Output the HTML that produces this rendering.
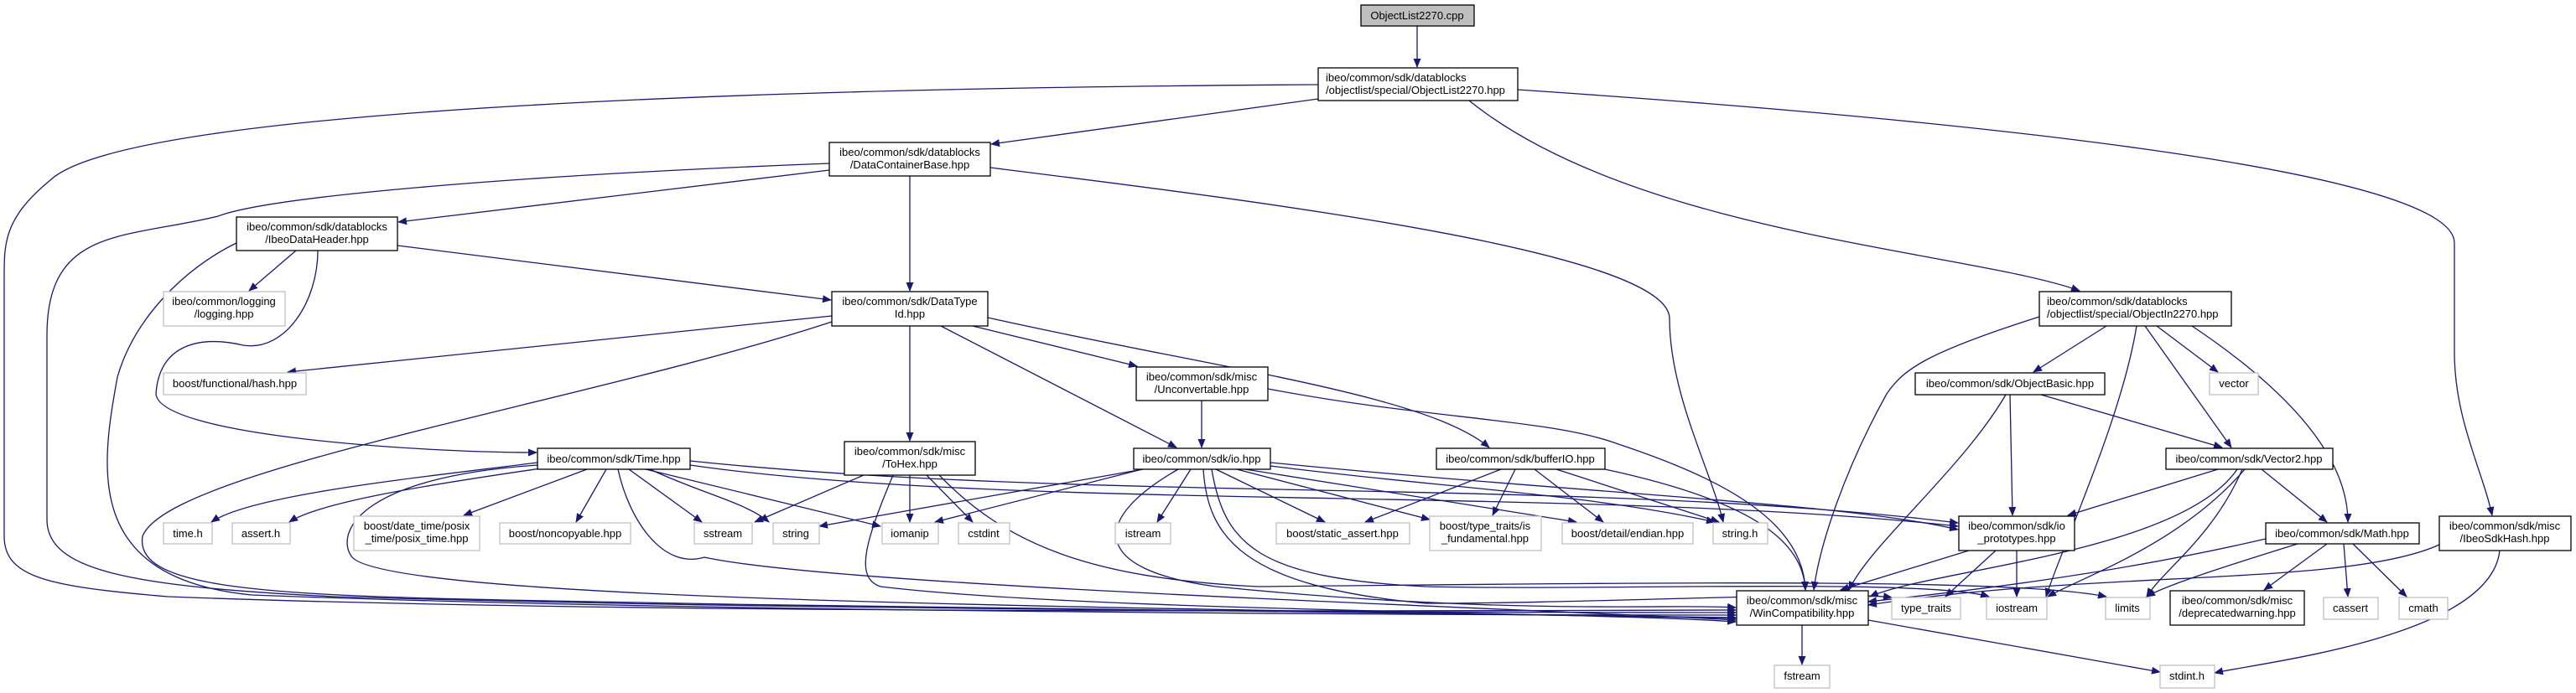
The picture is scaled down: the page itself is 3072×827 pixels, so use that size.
<!DOCTYPE html>
<html><head><meta charset="utf-8"><style>
html,body{margin:0;padding:0;background:#fff;}
svg{display:block;}
text{font-family:"Liberation Sans",sans-serif;font-size:13px;fill:#000;}
.n{fill:#fff;stroke:#000;stroke-width:1.3;}
.g{fill:#fff;stroke:#bfbfbf;stroke-width:1.3;}
.e{fill:none;stroke:#191970;stroke-width:1.3;}
</style></head><body>
<svg width="3072" height="827" viewBox="0 0 3072 827" xmlns="http://www.w3.org/2000/svg">
<defs><marker id="a" markerWidth="11" markerHeight="9" refX="10" refY="4.5" orient="auto" markerUnits="userSpaceOnUse"><path d="M0,0L11,4.5L0,9z" fill="#191970"/></marker></defs>
<g class="e" marker-end="url(#a)">
<path d="M1690,31L1690,80"/>
<path d="M1572,118L1182,172"/>
<path d="M1572,101C900,105 150,130 60,215C5,260 5,290 5,330L5,640C5,690 60,700 200,712C800,735 1800,728 2070,728"/>
<path d="M1752,120C1950,280 2350,300 2480,347"/>
<path d="M1810,107C2300,140 2927,200 2927,290L2927,420C2927,500 2960,560 2972,615"/>
<path d="M989,203L475,265"/>
<path d="M1085,210L1085,347"/>
<path d="M1181,200C1500,240 1990,300 1991,380C1991,470 2040,560 2055,623"/>
<path d="M989,195C600,210 320,235 260,258C150,285 56,270 56,400L56,620C56,680 150,700 400,712C1000,730 1900,731 2070,731"/>
<path d="M353,299L297,347"/>
<path d="M474,293L991,358"/>
<path d="M379,299C379,360 340,420 290,412C240,400 190,410 186,470C190,520 500,540 640,540"/>
<path d="M282,290C220,320 160,380 140,450C120,560 100,690 300,710C900,733 1900,734 2070,734"/>
<path d="M992,377L343,444"/>
<path d="M992,384C700,480 200,560 170,640C160,700 300,710 600,716C1200,728 1900,736 2070,737"/>
<path d="M1085,389L1085,526"/>
<path d="M1122,389L1403,534"/>
<path d="M1160,389L1356,437"/>
<path d="M1178,379C1450,440 1700,470 1776,534"/>
<path d="M1433,478L1433,534"/>
<path d="M1512,464C1700,500 1850,500 1930,530C2050,570 2150,620 2153,704"/>
<path d="M641,552C500,570 300,590 252,623"/>
<path d="M645,559C500,580 380,600 345,623"/>
<path d="M700,560L553,615"/>
<path d="M723,560L687,623"/>
<path d="M750,560L837,623"/>
<path d="M775,560C840,590 890,600 917,623"/>
<path d="M770,560L1050,628"/>
<path d="M641,555C420,570 400,640 420,665C470,720 1400,725 2070,738"/>
<path d="M737,560C750,620 790,680 840,665C1000,700 1800,725 2070,740"/>
<path d="M823,555C1200,610 1900,580 2335,628"/>
<path d="M823,550C1300,600 1900,570 2335,624"/>
<path d="M1030,567L900,623"/>
<path d="M1085,567L1085,623"/>
<path d="M1105,567L1160,623"/>
<path d="M1065,567C1030,650 1020,690 1050,700C1300,730 1900,730 2070,742"/>
<path d="M1120,567C1200,650 1300,690 1500,700C2000,695 2400,690 2512,712"/>
<path d="M1363,560L977,628"/>
<path d="M1370,558L1115,623"/>
<path d="M1420,560L1380,623"/>
<path d="M1450,560L1580,623"/>
<path d="M1475,560L1705,620"/>
<path d="M1485,560L1880,623"/>
<path d="M1515,556C1700,580 1900,590 2045,623"/>
<path d="M1515,552C1900,590 2200,600 2335,632"/>
<path d="M1405,560C1300,620 1300,680 1450,700C1800,735 2000,720 2070,725"/>
<path d="M1435,560C1440,640 1480,700 1700,720C1900,720 2200,705 2256,713"/>
<path d="M1445,560C1460,650 1500,690 1700,700C1900,705 2300,690 2372,712"/>
<path d="M1790,560L1628,623"/>
<path d="M1807,560L1780,615"/>
<path d="M1830,560L1912,623"/>
<path d="M1856,560L2050,623"/>
<path d="M1914,560C2100,600 2150,650 2153,704"/>
<path d="M2432,378C2300,420 2270,440 2250,470C2200,560 2170,650 2163,704"/>
<path d="M2512,389L2425,444"/>
<path d="M2548,389C2530,500 2460,650 2440,712"/>
<path d="M2558,389L2661,534"/>
<path d="M2572,389L2645,444"/>
<path d="M2614,389C2720,460 2800,540 2800,623"/>
<path d="M2397,471L2400,615"/>
<path d="M2434,471L2650,534"/>
<path d="M2392,471C2340,560 2230,650 2205,704"/>
<path d="M2645,560L2466,615"/>
<path d="M2668,560C2600,660 2300,680 2230,712"/>
<path d="M2677,560C2600,650 2480,690 2442,712"/>
<path d="M2674,560C2640,640 2580,680 2560,712"/>
<path d="M2697,560L2775,623"/>
<path d="M2348,657L2195,704"/>
<path d="M2380,657L2320,712"/>
<path d="M2405,657L2405,712"/>
<path d="M2702,643C2500,690 2300,710 2228,718"/>
<path d="M2740,649C2640,680 2580,700 2560,712"/>
<path d="M2775,649L2700,704"/>
<path d="M2795,649L2800,712"/>
<path d="M2806,649L2870,712"/>
<path d="M2909,650C2800,700 2500,680 2228,722"/>
<path d="M2981,657C2970,760 2700,790 2641,803"/>
<path d="M2149,746L2149,793"/>
<path d="M2228,740L2576,802"/>
</g>
<g>
<rect x="1623" y="6" width="135" height="25" fill="#bfbfbf" stroke="#000" stroke-width="1.3"/><text x="1690" y="23" text-anchor="middle">ObjectList2270.cpp</text>
<rect class="n" x="1572" y="81" width="238" height="39"/><text x="1581" y="97">ibeo/common/sdk/datablocks</text><text x="1581" y="112">/objectlist/special/ObjectList2270.hpp</text>
<rect class="n" x="989" y="170" width="192" height="40"/><text x="1085" y="186" text-anchor="middle">ibeo/common/sdk/datablocks</text><text x="1085" y="201" text-anchor="middle">/DataContainerBase.hpp</text>
<rect class="n" x="282" y="259" width="192" height="40"/><text x="378" y="275" text-anchor="middle">ibeo/common/sdk/datablocks</text><text x="378" y="290" text-anchor="middle">/IbeoDataHeader.hpp</text>
<rect class="g" x="195" y="348" width="145" height="41"/><text x="267" y="364" text-anchor="middle" fill="#000">ibeo/common/logging</text><text x="267" y="379" text-anchor="middle">/logging.hpp</text>
<rect class="n" x="992" y="348" width="186" height="41"/><text x="1085" y="364" text-anchor="middle">ibeo/common/sdk/DataType</text><text x="1085" y="379" text-anchor="middle">Id.hpp</text>
<rect class="g" x="195" y="445" width="170" height="26"/><text x="280" y="462" text-anchor="middle">boost/functional/hash.hpp</text>
<rect class="n" x="1355" y="438" width="157" height="40"/><text x="1433" y="454" text-anchor="middle">ibeo/common/sdk/misc</text><text x="1433" y="469" text-anchor="middle">/Unconvertable.hpp</text>
<rect class="n" x="641" y="535" width="182" height="25"/><text x="732" y="552" text-anchor="middle">ibeo/common/sdk/Time.hpp</text>
<rect class="n" x="1007" y="527" width="156" height="40"/><text x="1085" y="543" text-anchor="middle">ibeo/common/sdk/misc</text><text x="1085" y="558" text-anchor="middle">/ToHex.hpp</text>
<rect class="n" x="1352" y="535" width="163" height="25"/><text x="1433" y="552" text-anchor="middle">ibeo/common/sdk/io.hpp</text>
<rect class="n" x="1713" y="535" width="201" height="25"/><text x="1813" y="552" text-anchor="middle">ibeo/common/sdk/bufferIO.hpp</text>
<rect class="n" x="2284" y="445" width="226" height="26"/><text x="2397" y="462" text-anchor="middle">ibeo/common/sdk/ObjectBasic.hpp</text>
<rect class="g" x="2635" y="445" width="58" height="26"/><text x="2664" y="462" text-anchor="middle">vector</text>
<rect class="n" x="2583" y="535" width="199" height="25"/><text x="2682" y="552" text-anchor="middle">ibeo/common/sdk/Vector2.hpp</text>
<rect class="n" x="2432" y="348" width="229" height="41"/><text x="2441" y="364">ibeo/common/sdk/datablocks</text><text x="2441" y="379">/objectlist/special/ObjectIn2270.hpp</text>
<rect class="g" x="195" y="624" width="58" height="25"/><text x="224" y="641" text-anchor="middle">time.h</text>
<rect class="g" x="277" y="624" width="69" height="25"/><text x="311" y="641" text-anchor="middle">assert.h</text>
<rect class="g" x="422" y="616" width="150" height="41"/><text x="497" y="632" text-anchor="middle">boost/date_time/posix</text><text x="497" y="647" text-anchor="middle">_time/posix_time.hpp</text>
<rect class="g" x="596" y="624" width="156" height="25"/><text x="674" y="641" text-anchor="middle">boost/noncopyable.hpp</text>
<rect class="g" x="828" y="624" width="69" height="25"/><text x="862" y="641" text-anchor="middle">sstream</text>
<rect class="g" x="922" y="624" width="55" height="25"/><text x="949" y="641" text-anchor="middle">string</text>
<rect class="g" x="1052" y="624" width="67" height="25"/><text x="1085" y="641" text-anchor="middle">iomanip</text>
<rect class="g" x="1143" y="624" width="61" height="25"/><text x="1173" y="641" text-anchor="middle">cstdint</text>
<rect class="g" x="1330" y="624" width="66" height="25"/><text x="1363" y="641" text-anchor="middle">istream</text>
<rect class="g" x="1522" y="624" width="159" height="25"/><text x="1601" y="641" text-anchor="middle">boost/static_assert.hpp</text>
<rect class="g" x="1705" y="616" width="133" height="41"/><text x="1771" y="632" text-anchor="middle">boost/type_traits/is</text><text x="1771" y="647" text-anchor="middle">_fundamental.hpp</text>
<rect class="g" x="1863" y="624" width="156" height="25"/><text x="1941" y="641" text-anchor="middle">boost/detail/endian.hpp</text>
<rect class="g" x="2043" y="624" width="65" height="25"/><text x="2075" y="641" text-anchor="middle">string.h</text>
<rect class="n" x="2336" y="616" width="138" height="41"/><text x="2405" y="632" text-anchor="middle">ibeo/common/sdk/io</text><text x="2405" y="647" text-anchor="middle">_prototypes.hpp</text>
<rect class="n" x="2702" y="624" width="183" height="25"/><text x="2793" y="641" text-anchor="middle">ibeo/common/sdk/Math.hpp</text>
<rect class="n" x="2909" y="616" width="157" height="41"/><text x="2987" y="632" text-anchor="middle">ibeo/common/sdk/misc</text><text x="2987" y="647" text-anchor="middle">/IbeoSdkHash.hpp</text>
<rect class="n" x="2071" y="705" width="157" height="41"/><text x="2149" y="721" text-anchor="middle">ibeo/common/sdk/misc</text><text x="2149" y="736" text-anchor="middle">/WinCompatibility.hpp</text>
<rect class="g" x="2256" y="713" width="82" height="26"/><text x="2297" y="730" text-anchor="middle">type_traits</text>
<rect class="g" x="2369" y="713" width="72" height="26"/><text x="2405" y="730" text-anchor="middle">iostream</text>
<rect class="g" x="2511" y="713" width="53" height="26"/><text x="2537" y="730" text-anchor="middle">limits</text>
<rect class="n" x="2588" y="705" width="160" height="41"/><text x="2668" y="721" text-anchor="middle">ibeo/common/sdk/misc</text><text x="2668" y="736" text-anchor="middle">/deprecatedwarning.hpp</text>
<rect class="g" x="2771" y="713" width="65" height="26"/><text x="2803" y="730" text-anchor="middle">cassert</text>
<rect class="g" x="2861" y="713" width="58" height="26"/><text x="2890" y="730" text-anchor="middle">cmath</text>
<rect class="g" x="2116" y="794" width="66" height="27"/><text x="2149" y="811" text-anchor="middle">fstream</text>
<rect class="g" x="2576" y="794" width="65" height="27"/><text x="2608" y="811" text-anchor="middle">stdint.h</text>
</g>
</svg>
</body></html>
